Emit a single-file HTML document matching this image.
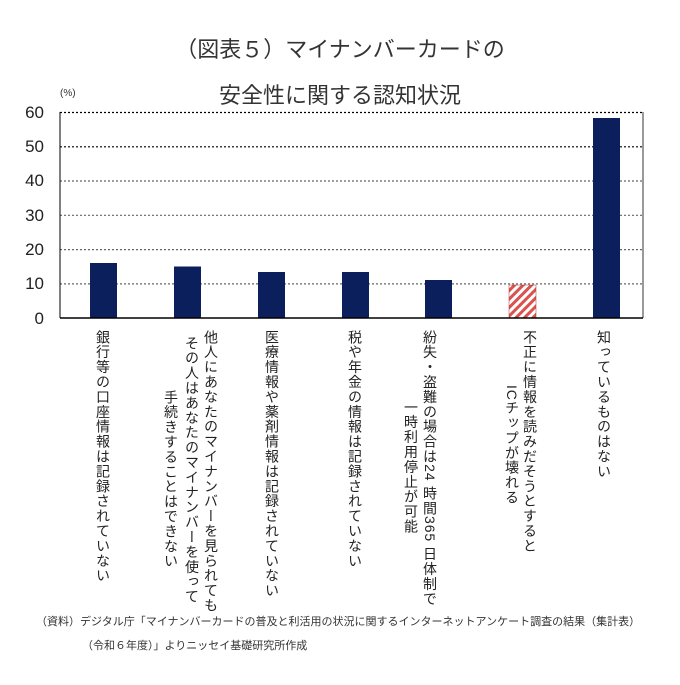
<!DOCTYPE html>
<html><head><meta charset="utf-8"><style>
body{margin:0;background:#fff;width:680px;height:685px;overflow:hidden;position:relative;font-family:"Liberation Sans","Noto Sans CJK JP",sans-serif;color:#222}
.t{position:absolute;left:0;width:680px;text-align:center;font-size:22px;color:#333}
.v{position:absolute;writing-mode:vertical-rl;font-size:14px;letter-spacing:0.9px;line-height:16px;white-space:nowrap;transform:translateX(-50%)}
.f{position:absolute;font-size:11px;color:#333;white-space:nowrap}
</style></head><body>
<div class="t" style="top:32px">（図表５）マイナンバーカードの</div>
<div class="t" style="top:78px">安全性に関する認知状況</div>
<svg width="680" height="685" style="position:absolute;left:0;top:0" font-family="Liberation Sans, sans-serif">
<text x="60" y="96" font-size="10" fill="#333">(%)</text>
<g fill="#222" font-size="17" text-anchor="end">
<text x="44" y="118">60</text><text x="44" y="152">50</text><text x="44" y="186">40</text><text x="44" y="221">30</text><text x="44" y="255">20</text><text x="44" y="289">10</text><text x="44" y="324">0</text></g>
<g stroke-dasharray="2,2" stroke-width="1.2">
<line x1="60" x2="643" y1="112.5" y2="112.5" stroke="#000"/>
<line x1="60" x2="643" y1="146.8" y2="146.8" stroke="#000"/>
<line x1="60" x2="643" y1="181" y2="181" stroke="#666"/>
<line x1="60" x2="643" y1="215.3" y2="215.3" stroke="#666"/>
<line x1="60" x2="643" y1="249.6" y2="249.6" stroke="#666"/>
<line x1="60" x2="643" y1="283.9" y2="283.9" stroke="#666"/>
</g>
<line x1="60" x2="60" y1="112" y2="318" stroke="#000"/>
<line x1="643" x2="643" y1="112" y2="318" stroke="#000" stroke-width="0.8"/>
<defs><pattern id="h" width="6" height="6" patternUnits="userSpaceOnUse" patternTransform="rotate(45)"><rect width="6" height="6" fill="#fff"/><rect width="3" height="6" fill="#d9534f"/></pattern></defs>
<g fill="#0b1f5c">
<rect x="90" y="263" width="27" height="55"/>
<rect x="174" y="266.5" width="27" height="51.5"/>
<rect x="258" y="272" width="27" height="46"/>
<rect x="342" y="272" width="27" height="46"/>
<rect x="425" y="280" width="27" height="38"/>
<rect x="593" y="118" width="27" height="200"/>
</g>
<rect x="509" y="285" width="27" height="33" fill="url(#h)" stroke="#a33" stroke-width="0.5"/>
<line x1="60" x2="643" y1="318" y2="318" stroke="#000" stroke-width="1.5"/>
</svg>
<div class="v" style="left:103px;top:330px">銀行等の口座情報は記録されていない</div>
<div class="v" style="left:211px;top:330px">他人にあなたのマイナンバーを見られても</div>
<div class="v" style="left:192px;top:336px">その人はあなたのマイナンバーを使って</div>
<div class="v" style="left:171px;top:390px">手続きすることはできない</div>
<div class="v" style="left:272px;top:330px">医療情報や薬剤情報は記録されていない</div>
<div class="v" style="left:355px;top:330px">税や年金の情報は記録されていない</div>
<div class="v" style="left:430px;top:330px">紛失・盗難の場合は24 時間365 日体制で</div>
<div class="v" style="left:411px;top:400px">一時利用停止が可能</div>
<div class="v" style="left:530px;top:330px">不正に情報を読みだそうとすると</div>
<div class="v" style="left:512px;top:385px">ICチップが壊れる</div>
<div class="v" style="left:604px;top:330px">知っているものはない</div>
<div class="f" style="left:36px;top:613px">（資料）デジタル庁「マイナンバーカードの普及と利活用の状況に関するインターネットアンケート調査の結果（集計表）</div>
<div class="f" style="left:82px;top:637px">（令和６年度）」よりニッセイ基礎研究所作成</div>
</body></html>
